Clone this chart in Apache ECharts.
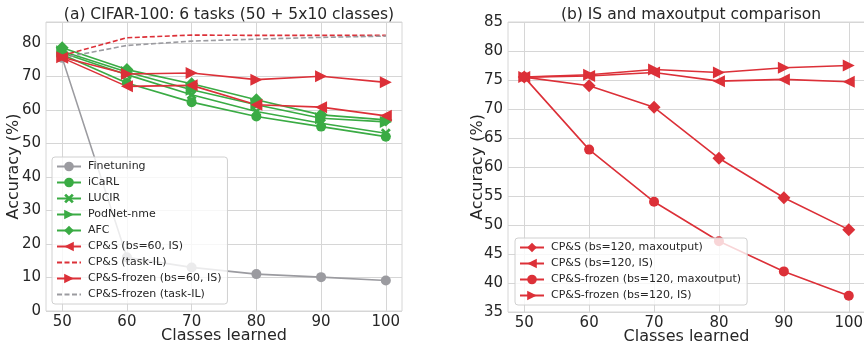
<!DOCTYPE html>
<html>
<head>
<meta charset="utf-8">
<script src="https://cdn.jsdelivr.net/npm/echarts@6/dist/echarts.min.js"></script>
<style>html,body{margin:0;padding:0;background:#fff;}#c{width:864px;height:347px;}</style>
</head>
<body>
<div id="c"></div>
<script>
const classes = [50, 60, 70, 80, 90, 100];
const xTicks = [50, 60, 70, 80, 90, 100];

// (a) CIFAR-100
const finetuning = [75.5, 16, 13, 11, 10.1, 9.1];
const icarl = [76.5, 68, 62.3, 58, 55, 52];
const lucir = [77, 70.5, 64.5, 59.5, 56, 53];
const podnet = [77.5, 71.3, 66, 61.5, 57.5, 56.4];
const afc = [78.5, 72, 67.8, 63, 58.5, 57];
const cpsIS60 = [75.5, 67, 67.3, 61.5, 60.8, 58.2];
const cpsTaskIL = [76.2, 81.5, 82.3, 82.2, 82.2, 82.2];
const frozenIS60 = [75.7, 70.7, 71.0, 69.0, 70.0, 68.2];
const frozenTaskIL = [75.5, 79.2, 80.5, 81.1, 81.6, 82.0];

// (b) IS vs maxoutput
const cpsMax120 = [75.5, 74.0, 70.3, 61.5, 54.7, 49.2];
const cpsIS120 = [75.5, 75.7, 76.3, 74.8, 75.1, 74.7];
const frozenMax120 = [75.5, 63.0, 54.0, 47.2, 42.0, 37.8];
const frozenIS120 = [75.5, 75.9, 76.8, 76.3, 77.1, 77.5];

const green = '#3aab44';
const red = '#dc3038';
const gray = '#9b9ba0';
const txt = '#262626';
const gridC = '#d6d6d6';
const FONT = 'DejaVu Sans';

const xShape = 'path://M2,0 L5,3 L8,0 L10,2 L7,5 L10,8 L8,10 L5,7 L2,10 L0,8 L3,5 L0,2 Z';

function pts(arr) { return classes.map((c, i) => [c, arr[i]]); }

function mk(name, arr, color, symbol, size, idx, opts) {
  const s = {
    name: name, type: 'line', xAxisIndex: idx, yAxisIndex: idx,
    data: pts(arr), symbol: symbol, symbolSize: size,
    lineStyle: { color: color, width: 1.6 },
    itemStyle: { color: color },
    emphasis: { disabled: true }, animation: false
  };
  return Object.assign(s, opts || {});
}

function xAxis(idx) {
  return {
    type: 'value', gridIndex: idx, min: 47.5, max: 102.5,
    name: 'Classes learned', nameLocation: 'middle', nameGap: 17, nameMoveOverlap: false,
    nameTextStyle: { color: txt, fontSize: 16, fontFamily: FONT },
    axisLine: { show: false },
    axisTick: { show: false, customValues: xTicks },
    axisLabel: { customValues: xTicks, color: txt, fontSize: 15, fontFamily: FONT, margin: 4 },
    splitLine: { show: true, lineStyle: { color: gridC, width: 1 } }
  };
}
function yAxis(idx, min, max, interval, gap) {
  return {
    type: 'value', gridIndex: idx, min: min, max: max, interval: interval,
    name: 'Accuracy (%)', nameLocation: 'middle', nameGap: gap, nameMoveOverlap: false,
    nameTextStyle: { color: txt, fontSize: 16, fontFamily: FONT },
    axisLine: { show: false }, axisTick: { show: false },
    axisLabel: { color: txt, fontSize: 15, fontFamily: FONT, margin: 5,
      showMaxLabel: idx === 1 },
    splitLine: { show: true, lineStyle: { color: gridC, width: 1 } }
  };
}

const legendCommon = {
  orient: 'vertical', itemWidth: 24, itemHeight: 12, itemGap: 5,
  backgroundColor: 'rgba(255,255,255,0.8)', borderColor: '#d0d0d0', borderWidth: 1,
  borderRadius: 3, padding: [4, 6, 4, 4],
  textStyle: { color: txt, fontSize: 11, fontFamily: FONT, padding: [0, 0, 0, 2] },
  selectedMode: false
};

const option = {
  backgroundColor: '#fff',
  animation: false,
  title: [
    { text: '(a) CIFAR-100: 6 tasks (50 + 5x10 classes)', left: 224, top: 2, textAlign: 'center',
      textStyle: { color: txt, fontSize: 15.5, fontWeight: 'normal', fontFamily: FONT } },
    { text: '(b) IS and maxoutput comparison', left: 686, top: 2, textAlign: 'center',
      textStyle: { color: txt, fontSize: 15.5, fontWeight: 'normal', fontFamily: FONT } }
  ],
  grid: [
    { left: 46, top: 22, width: 356, height: 289, outerBoundsMode: 'none', containLabel: false,
      show: true, borderColor: gridC, borderWidth: 1, backgroundColor: 'transparent' },
    { left: 508, top: 22, width: 357, height: 290, outerBoundsMode: 'none', containLabel: false,
      show: true, borderColor: gridC, borderWidth: 1, backgroundColor: 'transparent' }
  ],
  xAxis: [xAxis(0), xAxis(1)],
  yAxis: [yAxis(0, 0, 86.2, 10, 24), yAxis(1, 35, 85, 5, 22)],
  legend: [
    Object.assign({}, legendCommon, { left: 52, top: 157,
      data: ['Finetuning', 'iCaRL', 'LUCIR', 'PodNet-nme', 'AFC', 'CP&S (bs=60, IS)', 'CP&S (task-IL)', 'CP&S-frozen (bs=60, IS)', 'CP&S-frozen (task-IL)'] }),
    Object.assign({}, legendCommon, { left: 515, top: 238,
      data: ['CP&S (bs=120, maxoutput)', 'CP&S (bs=120, IS)', 'CP&S-frozen (bs=120, maxoutput)', 'CP&S-frozen (bs=120, IS)'] })
  ],
  series: [
    mk('Finetuning', finetuning, gray, 'circle', 10, 0),
    mk('iCaRL', icarl, green, 'circle', 10, 0),
    mk('LUCIR', lucir, green, xShape, 10, 0),
    mk('PodNet-nme', podnet, green, 'triangle', 12, 0, { symbolRotate: -90 }),
    mk('AFC', afc, green, 'diamond', 13, 0),
    mk('CP&S (bs=60, IS)', cpsIS60, red, 'triangle', 12, 0, { symbolRotate: 90 }),
    mk('CP&S (task-IL)', cpsTaskIL, red, 'none', 0, 0, { lineStyle: { color: red, width: 1.6, type: [5, 2.5] }, itemStyle: { color: 'rgba(0,0,0,0)' } }),
    mk('CP&S-frozen (bs=60, IS)', frozenIS60, red, 'triangle', 12, 0, { symbolRotate: -90 }),
    mk('CP&S-frozen (task-IL)', frozenTaskIL, gray, 'none', 0, 0, { lineStyle: { color: gray, width: 1.6, type: [5, 2.5] }, itemStyle: { color: 'rgba(0,0,0,0)' } }),

    mk('CP&S (bs=120, maxoutput)', cpsMax120, red, 'diamond', 13, 1),
    mk('CP&S (bs=120, IS)', cpsIS120, red, 'triangle', 12, 1, { symbolRotate: 90 }),
    mk('CP&S-frozen (bs=120, maxoutput)', frozenMax120, red, 'circle', 10, 1),
    mk('CP&S-frozen (bs=120, IS)', frozenIS120, red, 'triangle', 12, 1, { symbolRotate: -90 })
  ]
};

const chart = echarts.init(document.getElementById('c'), null, { renderer: 'canvas' });
chart.setOption(option);
</script>
</body>
</html>
